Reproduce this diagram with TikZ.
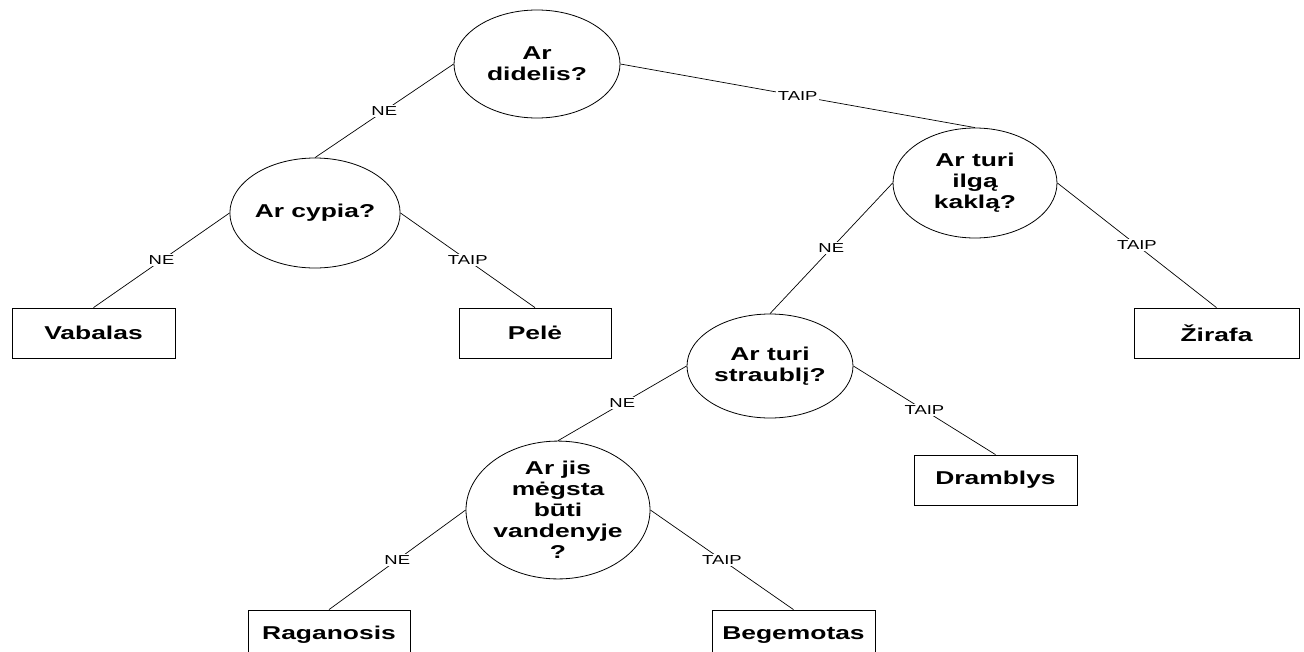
\documentclass[tikz,border=0pt]{standalone}
\usepackage{fontspec}
\setmainfont{Liberation Sans}[FakeStretch=1.42]
\usetikzlibrary{shapes.geometric}
\tikzset{
  qnode/.style={ellipse, draw, line width=0.8pt, inner sep=0pt, align=center,
    font=\fontsize{18.6}{21}\selectfont\bfseries},
  leaf/.style={rectangle, draw, line width=0.8pt, inner sep=0pt, minimum height=50pt,
    font=\fontsize{18.6}{21}\selectfont\bfseries},
  edge/.style={line width=0.7pt},
  lbl/.style={fill=white, inner sep=1.5pt, font=\fontsize{13}{15}\selectfont}
}
\begin{document}
\begin{tikzpicture}[x=1pt,y=-1pt]
\useasboundingbox (0,0) rectangle (1304,651);
\clip (0,0) rectangle (1304,651);
% questions
\node[qnode, minimum width=166pt, minimum height=108pt] (q1) at (537,64) {Ar\\didelis?};
\node[qnode, minimum width=164pt, minimum height=110pt] (q2) at (315,213) {Ar cypia?};
\node[qnode, minimum width=164pt, minimum height=110pt] (q3) at (975,183) {Ar turi\\ilgą\\kaklą?};
\node[qnode, minimum width=166pt, minimum height=104pt] (q4) at (770,366) {Ar turi\\straublį?};
\node[qnode, minimum width=184pt, minimum height=120pt] (q5) at (558,510) {Ar jis\\mėgsta\\būti\\vandenyje\\?};
% leaves
\node[leaf, minimum width=163pt] (vab) at (93.5,333) {Vabalas};
\node[leaf, minimum width=152pt] (pel) at (535,333) {Pelė};
\node[leaf, minimum width=165pt] (zir) at (1216.5,333) {Žirafa};
\node[leaf, minimum width=163pt] (dra) at (995.5,480) {Dramblys};
\node[leaf, minimum width=162pt] (rag) at (329,635) {Raganosis};
\node[leaf, minimum width=163pt] (beg) at (793.5,635) {Begemotas};
% edges
\draw[edge] (q1.west) -- node[lbl] {NE} (q2.north);
\draw[edge] (q1.east) -- node[lbl] {TAIP} (q3.north);
\draw[edge] (q2.west) -- node[lbl] {NE} (vab.north);
\draw[edge] (q2.east) -- node[lbl] {TAIP} (pel.north);
\draw[edge] (q3.west) -- node[lbl] {NE} (q4.north);
\draw[edge] (q3.east) -- node[lbl] {TAIP} (zir.north);
\draw[edge] (q4.west) -- node[lbl] {NE} (q5.north);
\draw[edge] (q4.east) -- node[lbl] {TAIP} (dra.north);
\draw[edge] (q5.west) -- node[lbl] {NE} (rag.north);
\draw[edge] (q5.east) -- node[lbl] {TAIP} (beg.north);
\end{tikzpicture}
\end{document}
